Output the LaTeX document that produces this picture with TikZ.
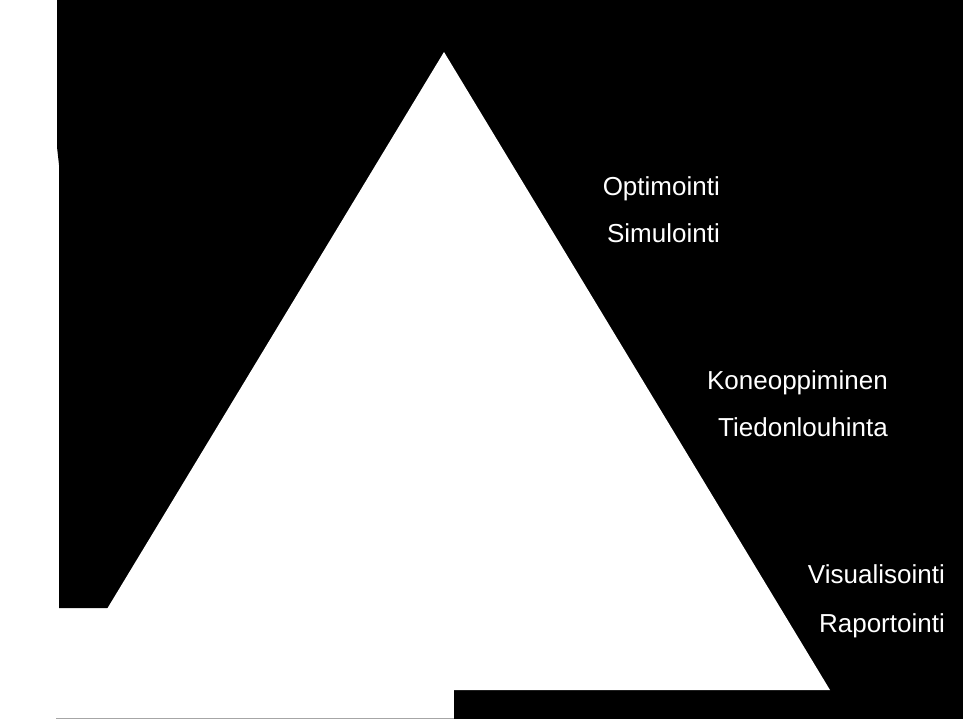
\documentclass[tikz,border=0pt]{standalone}
\usepackage{fontspec}
\setmainfont{Liberation Sans}
\begin{document}
\begin{tikzpicture}
                [x=1pt, y=-1pt,
                lsty/.style={text=white, anchor=base east, inner sep=0pt, font=\fontsize{26}{30}\selectfont},
                tsty/.style={fill=white, draw=none}]
                \useasboundingbox (0,0) rectangle (963,719);
                % background
                \fill[white] (0,0) rectangle (963,719);
                \fill[black] (57,0) -- (963,0) -- (963,719) -- (454,719) -- (454,608) -- (59,608) -- (59,165) -- (57,147) -- cycle;
                \draw[gray!70, thick] (56,718) -- (454,718);
                % pyramid
                \coordinate (top) at (444,52);
                \coordinate (bl) at (58,690);
                \coordinate (br) at (830,690);
                \path[tsty] (top) -- (br) -- (bl) -- cycle;
                % labels
                \node[lsty] (opt) at (720,196) {Optimointi};
                \node[lsty] (sim) at (720,243) {Simulointi};
                \node[lsty] (kon) at (888,389) {Koneoppiminen};
                \node[lsty] (tie) at (888,436) {Tiedonlouhinta};
                \node[lsty] (vis) at (945,583) {Visualisointi};
                \node[lsty] (rap) at (945,632) {Raportointi};
            \end{tikzpicture}
\end{document}
